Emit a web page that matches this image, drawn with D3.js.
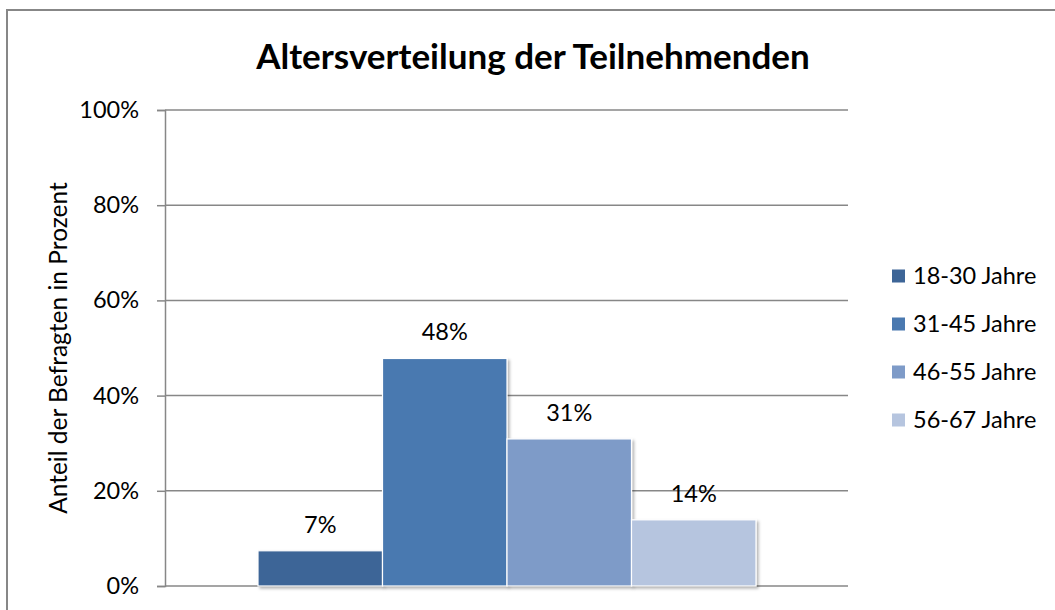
<!DOCTYPE html>
<html>
<head>
<meta charset="utf-8">
<script src="https://cdn.jsdelivr.net/npm/d3@7"></script>
<style>
  body { margin: 0; background: white; }
  svg text { font-family: Lato, "Open Sans", sans-serif; fill: #000; }
</style>
</head>
<body>
<svg id="chart" width="1055" height="610"></svg>
<script>
// values (share of respondents, percent)
var groups = ["18-30 Jahre", "31-45 Jahre", "46-55 Jahre", "56-67 Jahre"];
var shares = [7.4, 47.8, 30.9, 13.9];
var labels = ["7%", "48%", "31%", "14%"];
var colors = ["#3d6597", "#4a79b0", "#7e9bc8", "#b6c5df"];
var yTicks = [0, 20, 40, 60, 80, 100];

var svg = d3.select("#chart");

// plot area (don't call these top/left: window.top is taken)
var plotLeft = 165, plotRight = 848, plotTop = 110, plotBottom = 586;
var fs = 23.5;

var defs = svg.append("defs");
var f = defs.append("filter").attr("id", "shadow")
    .attr("x", "-10%").attr("y", "-10%").attr("width", "130%").attr("height", "130%");
f.append("feDropShadow").attr("dx", 2).attr("dy", 2).attr("stdDeviation", 1.5)
    .attr("flood-color", "#000").attr("flood-opacity", 0.3);

// outer frame (right and bottom edge fall outside the picture)
svg.append("rect").attr("x", 7).attr("y", 10).attr("width", 1100).attr("height", 700)
    .attr("fill", "white").attr("stroke", "#878787").attr("stroke-width", 2);

var y = d3.scaleLinear().domain([0, 100]).range([plotBottom, plotTop]);
// one category, four series side by side
var x = d3.scaleBand().domain(groups).range([258, 756]).padding(0);

// gridlines
svg.append("g").selectAll("line").data(yTicks).enter().append("line")
    .attr("x1", plotLeft).attr("x2", plotRight)
    .attr("y1", function(d) { return y(d); }).attr("y2", function(d) { return y(d); })
    .attr("stroke", "#878787").attr("stroke-width", 1.5);

// axis via d3.axisLeft
var yAxis = d3.axisLeft(y).tickValues(yTicks).tickSize(8).tickPadding(18)
    .tickFormat(function(d) { return d + "%"; });
var gy = svg.append("g").attr("transform", "translate(" + plotLeft + ",0)").call(yAxis);
gy.select(".domain").attr("stroke", "#878787").attr("stroke-width", 1.5);
gy.selectAll(".tick line").attr("stroke", "#878787").attr("stroke-width", 1.5);
gy.selectAll(".tick text").attr("font-size", fs).attr("font-family", "Lato, sans-serif");

// bars
svg.append("g").selectAll("rect").data(shares).enter().append("rect")
    .attr("x", function(d, i) { return x(groups[i]); })
    .attr("y", function(d) { return y(d); })
    .attr("width", x.bandwidth())
    .attr("height", function(d) { return y(0) - y(d); })
    .attr("fill", function(d, i) { return colors[i]; })
    .attr("stroke", "white").attr("stroke-width", 1.2)
    .attr("filter", "url(#shadow)");

// data labels
svg.append("g").selectAll("text").data(shares).enter().append("text")
    .attr("x", function(d, i) { return x(groups[i]) + x.bandwidth() / 2; })
    .attr("y", function(d) { return y(d) - 18; })
    .attr("text-anchor", "middle")
    .attr("font-size", fs)
    .text(function(d, i) { return labels[i]; });

// title
svg.append("text").attr("x", 533).attr("y", 69).attr("text-anchor", "middle")
    .attr("font-size", 35).attr("font-weight", "bold")
    .text("Altersverteilung der Teilnehmenden");

// y axis title
svg.append("text").attr("transform", "translate(67," + ((plotTop + plotBottom) / 2) + ") rotate(-90)")
    .attr("text-anchor", "middle").attr("font-size", 24.5)
    .text("Anteil der Befragten in Prozent");

// legend
var leg = svg.append("g").selectAll("g").data(groups).enter().append("g")
    .attr("transform", function(d, i) { return "translate(892," + (276 + i * 48) + ")"; });
leg.append("rect").attr("x", 0).attr("y", -6.5).attr("width", 13).attr("height", 13)
    .attr("fill", function(d, i) { return colors[i]; });
leg.append("text").attr("x", 21).attr("y", 8).attr("font-size", fs)
    .text(function(d) { return d; });
</script>
</body>
</html>
